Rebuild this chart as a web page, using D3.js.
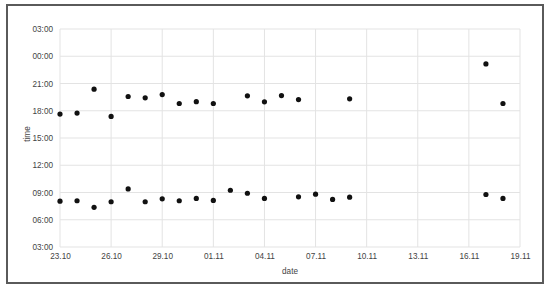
<!DOCTYPE html>
<html>
<head>
<meta charset="utf-8">
<script src="https://cdn.jsdelivr.net/npm/d3@7"></script>
<style>
  body { margin: 0; background: #fff; }
  .axis text { font: 8.2px "Liberation Sans", Arial, sans-serif; fill: #444; }
  .axis path, .axis line { display: none; }
  .grid line { stroke: #e3e3e3; stroke-width: 1; }
  .label { font: 8.2px "Liberation Sans", Arial, sans-serif; fill: #444; }
</style>
</head>
<body>
<script>
// days counted from 23.10 (day 0); times in hours, values above 24 mean after midnight
var eveningDays  = [0, 1, 2, 3, 4, 5, 6, 7, 8, 9, 11, 12, 13, 14, 17, 25, 26];
var eveningTimes = [17.63, 17.74, 20.37, 17.37, 19.57, 19.42, 19.78, 18.8, 19.0, 18.8, 19.64, 18.98, 19.67, 19.23, 19.31, 23.15, 18.8];
var morningDays  = [0, 1, 2, 3, 4, 5, 6, 7, 8, 9, 10, 11, 12, 14, 15, 16, 17, 25, 26];
var morningTimes = [8.05, 8.09, 7.37, 7.98, 9.39, 7.98, 8.3, 8.09, 8.35, 8.13, 9.25, 8.92, 8.35, 8.52, 8.82, 8.24, 8.49, 8.78, 8.35];
var xTickDays   = [0, 3, 6, 9, 12, 15, 18, 21, 24, 27];
var xTickLabels = ["23.10", "26.10", "29.10", "01.11", "04.11", "07.11", "10.11", "13.11", "16.11", "19.11"];
var yTicks      = [3, 6, 9, 12, 15, 18, 21, 24, 27];

var W = 550, H = 289;
var svg = d3.select("body").append("svg").attr("width", W).attr("height", H);

svg.append("rect")
    .attr("x", 7).attr("y", 5).attr("width", 536).attr("height", 278)
    .attr("fill", "#fff").attr("stroke", "#5a5a5a").attr("stroke-width", 2);

var margin = {top: 29, left: 60, right: 30, bottom: 42},
    width = W - margin.left - margin.right,
    height = H - margin.top - margin.bottom,
    g = svg.append("g").attr("transform", "translate(" + margin.left + "," + margin.top + ")");

var x = d3.scaleLinear().domain([0, 27]).range([0, width]),
    y = d3.scaleLinear().domain([3, 27]).range([height, 0]);

var fmtTime = function(h) { return d3.format("02")(h % 24) + ":00"; };

g.append("g").attr("class", "grid")
  .selectAll("line").data(yTicks).enter().append("line")
    .attr("x1", 0).attr("x2", width)
    .attr("y1", function(d) { return y(d); }).attr("y2", function(d) { return y(d); });

g.append("g").attr("class", "grid")
  .selectAll("line").data(xTickDays).enter().append("line")
    .attr("y1", 0).attr("y2", height)
    .attr("x1", function(d) { return x(d); }).attr("x2", function(d) { return x(d); });

g.append("g")
    .attr("class", "axis")
    .attr("transform", "translate(0," + height + ")")
    .call(d3.axisBottom(x).tickValues(xTickDays).tickSize(0).tickPadding(6)
      .tickFormat(function(d, i) { return xTickLabels[i]; }));

g.append("g")
    .attr("class", "axis")
    .call(d3.axisLeft(y).tickValues(yTicks).tickSize(0).tickPadding(7).tickFormat(fmtTime));

g.append("text")
    .attr("class", "label")
    .attr("x", width / 2).attr("y", height + 27)
    .attr("text-anchor", "middle")
    .text("date");

g.append("text")
    .attr("class", "label")
    .attr("transform", "rotate(-90)")
    .attr("x", -height / 2 + 4).attr("y", -30)
    .attr("text-anchor", "middle")
    .text("time");

var pts = eveningDays.map(function(d, i) { return {day: d, t: eveningTimes[i]}; })
  .concat(morningDays.map(function(d, i) { return {day: d, t: morningTimes[i]}; }));

g.selectAll(".dot").data(pts).enter().append("circle")
    .attr("class", "dot")
    .attr("r", 2.6)
    .attr("cx", function(d) { return x(d.day); })
    .attr("cy", function(d) { return y(d.t); })
    .attr("fill", "#111");
</script>
</body>
</html>
